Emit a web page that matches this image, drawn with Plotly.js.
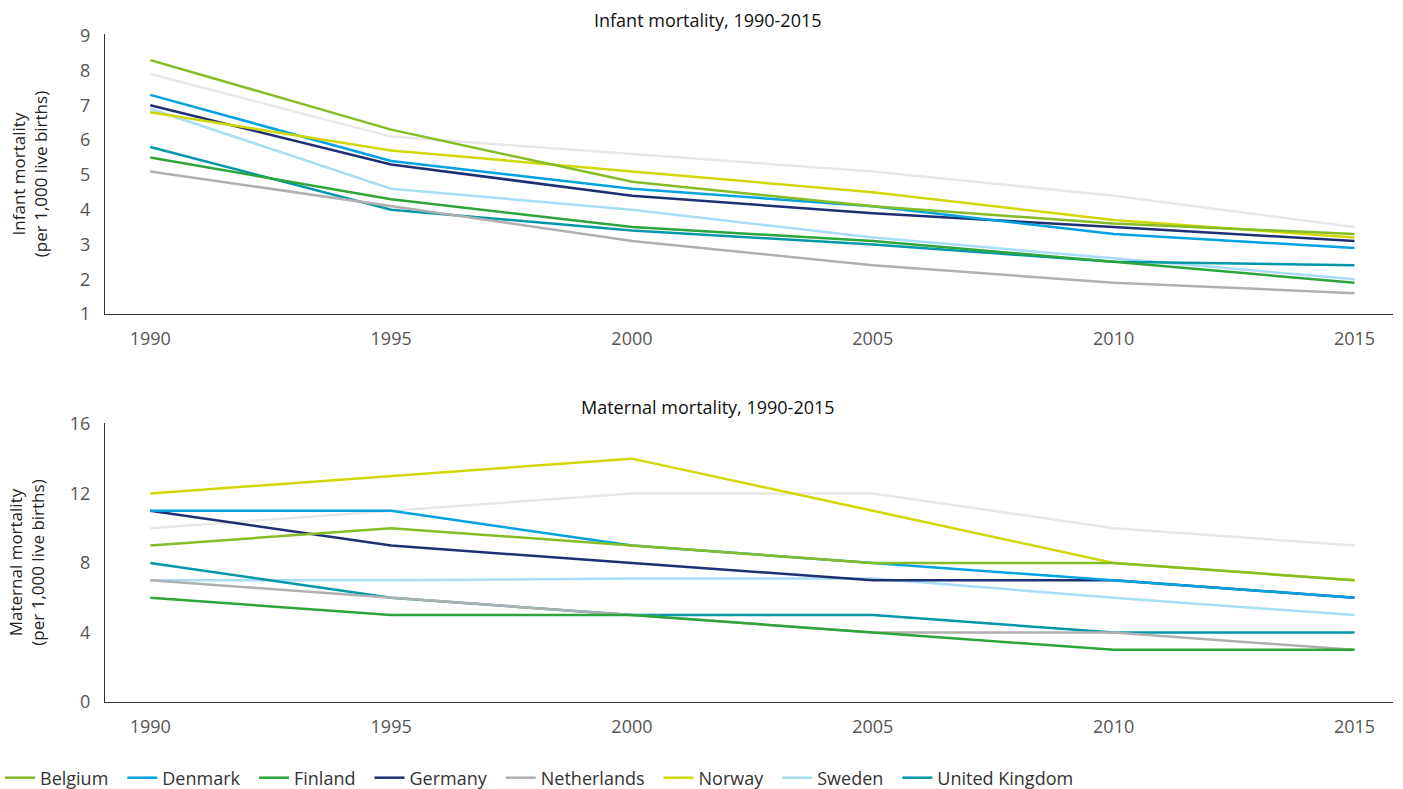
<!DOCTYPE html>
<html>
<head>
<meta charset="utf-8">
<script src="https://cdn.plot.ly/plotly-3.0.1.min.js"></script>
<style>html,body{margin:0;padding:0;background:#fff;}#chart{width:1403px;height:789px;}</style>
</head>
<body>
<div id="chart"></div>
<script>
const years = [1990, 1995, 2000, 2005, 2010, 2015];

// Infant mortality (per 1,000 live births)
const infantBelgium     = [8.3, 6.3, 4.8, 4.1, 3.6, 3.3];
const infantDenmark     = [7.3, 5.4, 4.6, 4.1, 3.3, 2.9];
const infantFinland     = [5.5, 4.3, 3.5, 3.1, 2.5, 1.9];
const infantGermany     = [7.0, 5.3, 4.4, 3.9, 3.5, 3.1];
const infantNetherlands = [5.1, 4.1, 3.1, 2.4, 1.9, 1.6];
const infantNorway      = [6.8, 5.7, 5.1, 4.5, 3.7, 3.2];
const infantSweden      = [6.9, 4.6, 4.0, 3.2, 2.6, 2.0];
const infantUK          = [5.8, 4.0, 3.4, 3.0, 2.5, 2.4];
const infantOther       = [7.9, 6.1, 5.6, 5.1, 4.4, 3.5];

// Maternal mortality (per 1,000 live births)
const maternalBelgium     = [9, 10, 9, 8, 8, 7];
const maternalDenmark     = [11, 11, 9, 8, 7, 6];
const maternalFinland     = [6, 5, 5, 4, 3, 3];
const maternalGermany     = [11, 9, 8, 7, 7, 6];
const maternalNetherlands = [7, 6, 5, 4, 4, 3];
const maternalNorway      = [12, 13, 14, 11, 8, 7];
const maternalSweden      = [7, 7, 7.1, 7.1, 6, 5];
const maternalUK          = [8, 6, 5, 5, 4, 4];
const maternalOther       = [10, 11, 12, 12, 10, 9];

const countries = ['Belgium', 'Denmark', 'Finland', 'Germany', 'Netherlands', 'Norway', 'Sweden', 'United Kingdom'];
const colors = {
  'Belgium': '#86bc25',
  'Denmark': '#00a3e0',
  'Finland': '#2ca53a',
  'Germany': '#1f2f73',
  'Netherlands': '#b0b0b0',
  'Norway': '#d0d800',
  'Sweden': '#a8dcf8',
  'United Kingdom': '#0097a9',
  'Other': '#e8e8e8'
};
const infant = {
  'Belgium': infantBelgium, 'Denmark': infantDenmark, 'Finland': infantFinland,
  'Germany': infantGermany, 'Netherlands': infantNetherlands, 'Norway': infantNorway,
  'Sweden': infantSweden, 'United Kingdom': infantUK, 'Other': infantOther
};
const maternal = {
  'Belgium': maternalBelgium, 'Denmark': maternalDenmark, 'Finland': maternalFinland,
  'Germany': maternalGermany, 'Netherlands': maternalNetherlands, 'Norway': maternalNorway,
  'Sweden': maternalSweden, 'United Kingdom': maternalUK, 'Other': maternalOther
};

// drawing order (bottom to top)
const drawOrder = ['Other', 'Sweden', 'United Kingdom', 'Netherlands', 'Finland', 'Germany', 'Denmark', 'Norway', 'Belgium'];

const traces = [];
drawOrder.forEach(name => {
  const isOther = name === 'Other';
  const rank = isOther ? 999 : countries.indexOf(name) + 1;
  traces.push({
    x: years, y: infant[name], type: 'scatter', mode: 'lines',
    name: name + '\u2002', legendgroup: name, showlegend: !isOther, legendrank: rank,
    line: {color: colors[name], width: 2.5},
    xaxis: 'x', yaxis: 'y', hoverinfo: isOther ? 'skip' : 'x+y+name'
  });
  traces.push({
    x: years, y: maternal[name], type: 'scatter', mode: 'lines',
    name: name, legendgroup: name, showlegend: false,
    line: {color: colors[name], width: 2.5},
    xaxis: 'x2', yaxis: 'y2', hoverinfo: isOther ? 'skip' : 'x+y+name'
  });
});

const FONT = 'Open Sans, sans-serif';
const tickFont = {family: FONT, size: 18, color: '#555'};
const titleFont = {family: FONT, size: 17, color: '#222'};

const xCommon = {
  range: [1989.06, 2015.8],
  tickvals: years, ticktext: years.map(String),
  showgrid: false, zeroline: false,
  showline: true, linecolor: '#333', linewidth: 1,
  ticks: '', ticklabelstandoff: 8,
  tickfont: tickFont, fixedrange: true
};
const yCommon = {
  showgrid: false, zeroline: false,
  showline: true, linecolor: '#333', linewidth: 1,
  ticks: '', ticklabelstandoff: 10,
  tickfont: tickFont, fixedrange: true
};

// plot area: 105..1393 horizontally, 0..759 vertically (bottom margin holds the legend)
const PH = 759, L = 105, PW = 1288;
const py = pix => 1 - pix / PH;
const layout = {
  width: 1403, height: 789,
  margin: {l: L, r: 10, t: 0, b: 789 - PH, autoexpand: false},
  paper_bgcolor: '#fff', plot_bgcolor: '#fff',
  font: {family: FONT, color: '#333'},
  showlegend: true,
  legend: {
    orientation: 'h', x: (0 - L) / PW, xanchor: 'left', y: py(778), yanchor: 'middle',
    font: {family: FONT, size: 18, color: '#333'},
    itemwidth: 30, traceorder: 'normal'
  },
  xaxis: Object.assign({}, xCommon, {domain: [0, 1], anchor: 'y'}),
  yaxis: Object.assign({}, yCommon, {
    domain: [py(314), py(34)], anchor: 'x',
    range: [1, 9.05], tickvals: [1, 2, 3, 4, 5, 6, 7, 8, 9],
    title: {text: 'Infant mortality<br>(per 1,000 live births)', font: titleFont, standoff: 28}
  }),
  xaxis2: Object.assign({}, xCommon, {domain: [0, 1], anchor: 'y2'}),
  yaxis2: Object.assign({}, yCommon, {
    domain: [py(702), py(423)], anchor: 'x2',
    range: [0, 16.05], tickvals: [0, 4, 8, 12, 16],
    title: {text: 'Maternal mortality<br>(per 1,000 live births)', font: titleFont, standoff: 20}
  }),
  annotations: [
    {text: 'Infant mortality, 1990-2015', xref: 'paper', yref: 'paper',
     x: (708 - L) / PW, y: py(20), xanchor: 'center', yanchor: 'middle',
     showarrow: false, font: {family: FONT, size: 18, color: '#111'}},
    {text: 'Maternal mortality, 1990-2015', xref: 'paper', yref: 'paper',
     x: (708 - L) / PW, y: py(407), xanchor: 'center', yanchor: 'middle',
     showarrow: false, font: {family: FONT, size: 18, color: '#111'}}
  ]
};

Plotly.newPlot('chart', traces, layout, {displayModeBar: false, staticPlot: true});
</script>
</body>
</html>
